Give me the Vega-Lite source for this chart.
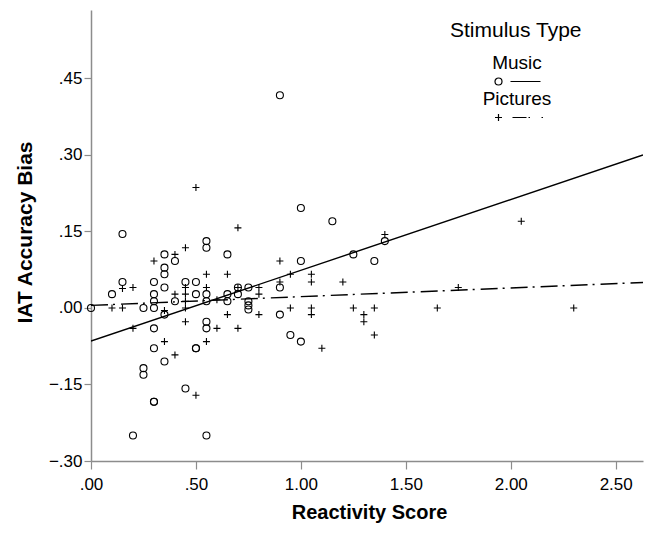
{
  "$schema": "https://vega.github.io/schema/vega-lite/v6.json",
  "width": 552,
  "height": 451,
  "autosize": "none",
  "padding": {"left": 91, "top": 10, "right": 7, "bottom": 72},
  "background": "white",
  "config": {
    "font": "Liberation Sans",
    "view": {"stroke": null},
    "axis": {
      "grid": false,
      "domainColor": "#8c8c8c",
      "domainWidth": 1.5,
      "tickColor": "#8c8c8c",
      "tickWidth": 1.2,
      "labelColor": "#000000",
      "labelFont": "Liberation Sans",
      "labelFontSize": 17,
      "titleFont": "Liberation Sans",
      "titleFontSize": 20,
      "titleFontWeight": "bold",
      "titleColor": "#000000"
    }
  },
  "resolve": {"scale": {"shape": "independent"}},
  "datasets": {
    "points": [
      {"score": 0.00, "bias": 0.000, "type": "Music"},
      {"score": 0.10, "bias": 0.027, "type": "Music"},
      {"score": 0.15, "bias": 0.145, "type": "Music"},
      {"score": 0.15, "bias": 0.051, "type": "Music"},
      {"score": 0.20, "bias": -0.250, "type": "Music"},
      {"score": 0.25, "bias": 0.000, "type": "Music"},
      {"score": 0.25, "bias": -0.118, "type": "Music"},
      {"score": 0.25, "bias": -0.131, "type": "Music"},
      {"score": 0.30, "bias": 0.051, "type": "Music"},
      {"score": 0.30, "bias": 0.027, "type": "Music"},
      {"score": 0.30, "bias": 0.013, "type": "Music"},
      {"score": 0.30, "bias": 0.000, "type": "Music"},
      {"score": 0.30, "bias": -0.040, "type": "Music"},
      {"score": 0.30, "bias": -0.079, "type": "Music"},
      {"score": 0.30, "bias": -0.184, "type": "Music"},
      {"score": 0.30, "bias": -0.184, "type": "Music"},
      {"score": 0.35, "bias": 0.105, "type": "Music"},
      {"score": 0.35, "bias": 0.079, "type": "Music"},
      {"score": 0.35, "bias": 0.066, "type": "Music"},
      {"score": 0.35, "bias": 0.040, "type": "Music"},
      {"score": 0.35, "bias": -0.013, "type": "Music"},
      {"score": 0.35, "bias": -0.105, "type": "Music"},
      {"score": 0.40, "bias": 0.092, "type": "Music"},
      {"score": 0.40, "bias": 0.013, "type": "Music"},
      {"score": 0.45, "bias": 0.051, "type": "Music"},
      {"score": 0.45, "bias": -0.158, "type": "Music"},
      {"score": 0.50, "bias": 0.051, "type": "Music"},
      {"score": 0.50, "bias": 0.027, "type": "Music"},
      {"score": 0.50, "bias": -0.079, "type": "Music"},
      {"score": 0.50, "bias": -0.079, "type": "Music"},
      {"score": 0.55, "bias": 0.131, "type": "Music"},
      {"score": 0.55, "bias": 0.118, "type": "Music"},
      {"score": 0.55, "bias": 0.027, "type": "Music"},
      {"score": 0.55, "bias": 0.013, "type": "Music"},
      {"score": 0.55, "bias": -0.027, "type": "Music"},
      {"score": 0.55, "bias": -0.040, "type": "Music"},
      {"score": 0.55, "bias": -0.250, "type": "Music"},
      {"score": 0.65, "bias": 0.105, "type": "Music"},
      {"score": 0.65, "bias": 0.027, "type": "Music"},
      {"score": 0.65, "bias": 0.013, "type": "Music"},
      {"score": 0.70, "bias": 0.040, "type": "Music"},
      {"score": 0.70, "bias": 0.027, "type": "Music"},
      {"score": 0.75, "bias": 0.040, "type": "Music"},
      {"score": 0.75, "bias": 0.013, "type": "Music"},
      {"score": 0.75, "bias": 0.005, "type": "Music"},
      {"score": 0.75, "bias": -0.003, "type": "Music"},
      {"score": 0.90, "bias": 0.417, "type": "Music"},
      {"score": 0.90, "bias": 0.040, "type": "Music"},
      {"score": 0.90, "bias": -0.013, "type": "Music"},
      {"score": 0.95, "bias": -0.053, "type": "Music"},
      {"score": 1.00, "bias": 0.196, "type": "Music"},
      {"score": 1.00, "bias": 0.092, "type": "Music"},
      {"score": 1.00, "bias": -0.066, "type": "Music"},
      {"score": 1.15, "bias": 0.170, "type": "Music"},
      {"score": 1.25, "bias": 0.105, "type": "Music"},
      {"score": 1.35, "bias": 0.092, "type": "Music"},
      {"score": 1.40, "bias": 0.131, "type": "Music"},
      {"score": 0.10, "bias": 0.000, "type": "Pictures"},
      {"score": 0.15, "bias": 0.000, "type": "Pictures"},
      {"score": 0.15, "bias": 0.038, "type": "Pictures"},
      {"score": 0.20, "bias": 0.040, "type": "Pictures"},
      {"score": 0.20, "bias": -0.040, "type": "Pictures"},
      {"score": 0.30, "bias": 0.092, "type": "Pictures"},
      {"score": 0.35, "bias": -0.005, "type": "Pictures"},
      {"score": 0.35, "bias": -0.066, "type": "Pictures"},
      {"score": 0.40, "bias": 0.105, "type": "Pictures"},
      {"score": 0.40, "bias": 0.027, "type": "Pictures"},
      {"score": 0.40, "bias": -0.092, "type": "Pictures"},
      {"score": 0.45, "bias": 0.118, "type": "Pictures"},
      {"score": 0.45, "bias": 0.040, "type": "Pictures"},
      {"score": 0.45, "bias": 0.027, "type": "Pictures"},
      {"score": 0.45, "bias": 0.013, "type": "Pictures"},
      {"score": 0.45, "bias": 0.000, "type": "Pictures"},
      {"score": 0.45, "bias": -0.027, "type": "Pictures"},
      {"score": 0.50, "bias": 0.236, "type": "Pictures"},
      {"score": 0.50, "bias": -0.171, "type": "Pictures"},
      {"score": 0.55, "bias": 0.066, "type": "Pictures"},
      {"score": 0.55, "bias": 0.040, "type": "Pictures"},
      {"score": 0.55, "bias": -0.066, "type": "Pictures"},
      {"score": 0.60, "bias": 0.016, "type": "Pictures"},
      {"score": 0.60, "bias": -0.040, "type": "Pictures"},
      {"score": 0.65, "bias": 0.066, "type": "Pictures"},
      {"score": 0.65, "bias": -0.013, "type": "Pictures"},
      {"score": 0.70, "bias": 0.157, "type": "Pictures"},
      {"score": 0.70, "bias": 0.040, "type": "Pictures"},
      {"score": 0.70, "bias": -0.040, "type": "Pictures"},
      {"score": 0.80, "bias": 0.040, "type": "Pictures"},
      {"score": 0.80, "bias": 0.027, "type": "Pictures"},
      {"score": 0.80, "bias": -0.013, "type": "Pictures"},
      {"score": 0.90, "bias": 0.092, "type": "Pictures"},
      {"score": 0.90, "bias": 0.051, "type": "Pictures"},
      {"score": 0.95, "bias": 0.066, "type": "Pictures"},
      {"score": 0.95, "bias": 0.000, "type": "Pictures"},
      {"score": 1.05, "bias": 0.066, "type": "Pictures"},
      {"score": 1.05, "bias": 0.051, "type": "Pictures"},
      {"score": 1.05, "bias": 0.000, "type": "Pictures"},
      {"score": 1.05, "bias": -0.013, "type": "Pictures"},
      {"score": 1.10, "bias": -0.079, "type": "Pictures"},
      {"score": 1.20, "bias": 0.051, "type": "Pictures"},
      {"score": 1.25, "bias": 0.000, "type": "Pictures"},
      {"score": 1.30, "bias": -0.013, "type": "Pictures"},
      {"score": 1.30, "bias": -0.027, "type": "Pictures"},
      {"score": 1.35, "bias": 0.000, "type": "Pictures"},
      {"score": 1.35, "bias": -0.053, "type": "Pictures"},
      {"score": 1.40, "bias": 0.144, "type": "Pictures"},
      {"score": 1.65, "bias": 0.000, "type": "Pictures"},
      {"score": 1.75, "bias": 0.040, "type": "Pictures"},
      {"score": 2.05, "bias": 0.170, "type": "Pictures"},
      {"score": 2.30, "bias": 0.000, "type": "Pictures"}
    ],
    "fits": [
      {"score": 0.00, "bias": -0.065, "type": "Music"},
      {"score": 2.63, "bias": 0.300, "type": "Music"},
      {"score": 0.00, "bias": 0.005, "type": "Pictures"},
      {"score": 2.63, "bias": 0.050, "type": "Pictures"}
    ]
  },
  "layer": [
    {
      "data": {"name": "fits"},
      "transform": [{"filter": "datum.type === 'Music'"}],
      "mark": {"type": "line", "color": "#000000", "strokeWidth": 1.4, "clip": true},
      "encoding": {
        "x": {"field": "score", "type": "quantitative"},
        "y": {"field": "bias", "type": "quantitative"}
      }
    },
    {
      "data": {"name": "fits"},
      "transform": [{"filter": "datum.type === 'Pictures'"}],
      "mark": {"type": "line", "color": "#000000", "strokeWidth": 1.4, "strokeDash": [17, 5, 2, 6], "clip": true},
      "encoding": {
        "x": {"field": "score", "type": "quantitative"},
        "y": {"field": "bias", "type": "quantitative"}
      }
    },
    {
      "data": {"name": "points"},
      "mark": {"type": "point", "filled": false, "stroke": "#000000", "strokeWidth": 1.1, "size": 49, "opacity": 1},
      "encoding": {
        "x": {
          "field": "score",
          "type": "quantitative",
          "title": "Reactivity Score",
          "scale": {"domain": [0, 2.63], "nice": false, "zero": false},
          "axis": {
            "values": [0, 0.5, 1, 1.5, 2, 2.5],
            "labelExpr": "replace(format(datum.value, '.2f'), '0.', '.')",
            "tickSize": 8,
            "labelPadding": 7,
            "labelFlush": false,
            "titleX": 278,
            "titleY": 51,
            "titleBaseline": "middle",
            "titleAlign": "center",
            "titleFontSize": 20
          }
        },
        "y": {
          "field": "bias",
          "type": "quantitative",
          "title": "IAT Accuracy Bias",
          "scale": {"domain": [-0.3, 0.584], "nice": false, "zero": false},
          "axis": {
            "values": [-0.3, -0.15, 0, 0.15, 0.3, 0.45],
            "labelExpr": "replace(format(datum.value, '.2f'), '0.', '.')",
            "tickSize": 7,
            "labelPadding": 2,
            "titleX": -66,
            "titleY": 222,
            "titleAngle": -90,
            "titleBaseline": "middle",
            "titleAlign": "center",
            "titleFontSize": 21
          }
        },
        "shape": {
          "field": "type",
          "type": "nominal",
          "scale": {"domain": ["Music", "Pictures"], "range": ["circle", "M -1 0 L 1 0 M 0 -1 L 0 1"]},
          "legend": null
        }
      }
    },
    {
      "data": {"name": "fits"},
      "mark": {"type": "point", "filled": false, "stroke": "#000000", "strokeWidth": 1.2, "size": 4, "opacity": 0},
      "encoding": {
        "x": {"field": "score", "type": "quantitative"},
        "y": {"field": "bias", "type": "quantitative"},
        "shape": {
          "field": "type",
          "type": "nominal",
          "scale": {
            "domain": ["Music", "Pictures"],
            "range": [
              "M 42.5 9 A 3.5 3.5 0 1 1 35.5 9 A 3.5 3.5 0 1 1 42.5 9 M 51 9 L 81 9",
              "M 35.5 9 L 42.5 9 M 39 5.5 L 39 12.5 M 53 9 L 67 9 M 69 9 L 70.5 9 M 82 9 L 83.5 9"
            ]
          },
          "legend": {
            "orient": "none",
            "legendX": 359,
            "legendY": 10,
            "padding": 0,
            "title": "Stimulus Type",
            "titleFont": "Liberation Sans",
            "titleFontSize": 21,
            "titleFontWeight": "normal",
            "titleColor": "#000000",
            "titlePadding": 22,
            "titleBaseline": "top",
            "labelFont": "Liberation Sans",
            "labelFontSize": 19,
            "labelColor": "#000000",
            "labelAlign": "center",
            "labelBaseline": "bottom",
            "labelOffset": 48,
            "rowPadding": 1,
            "symbolSize": 4,
            "symbolStrokeWidth": 1.2,
            "symbolStrokeColor": "#000000",
            "symbolFillColor": "transparent",
            "symbolOpacity": 1
          }
        }
      }
    }
  ]
}
